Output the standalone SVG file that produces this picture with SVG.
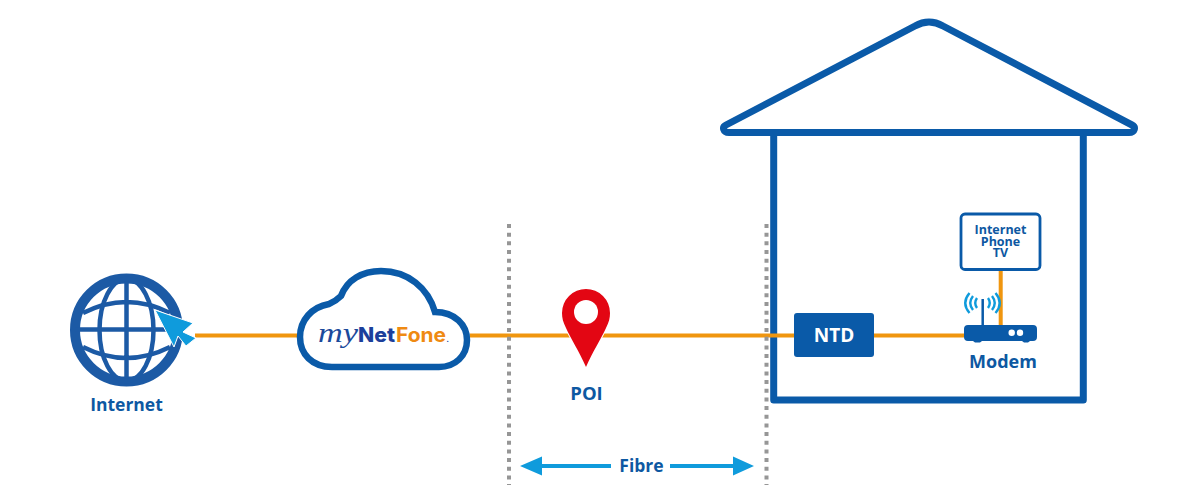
<svg xmlns="http://www.w3.org/2000/svg" width="1200" height="499" viewBox="0 0 1200 499">
<defs><style>
text{font-family:"Open Sans","Noto Sans",sans-serif;font-weight:700;fill:#0d58a2;text-anchor:middle}
.b{fill:none;stroke:#0a5aa8;stroke-width:7}
.o{fill:none;stroke:#f0960f;stroke-width:4}
.d{fill:none;stroke:#969696;stroke-width:4;stroke-dasharray:4 4.67}
.a{fill:none;stroke:#0f9bdc;stroke-width:4}
.f{fill:#0f9bdc}
.g{fill:none;stroke:#1c5aa5;stroke-width:4.500}
.w{fill:none;stroke:#0f9bdc;stroke-width:2.400}
</style></defs>
<g id="house">
<path class="b" stroke-linejoin="round" d="M773.700 133V400H1083.300V133"/>
<path class="b" stroke-linejoin="round" d="M729 132.500H1129C1135 132.500 1136 127 1132 125L943 26Q929 18 915 26L726 125C722 127 723 132.500 729 132.500Z"/>
</g>
<g id="connectors">
<path class="o" d="M195 335.500H298M470 335.500H794M874 335.500H965M1000.700 270V325"/>
<path class="d" d="M509 224V485M766.500 224V485"/>
<path class="a" d="M535 466H611M670 466H740"/>
<path class="f" d="M520 466L542 456.500V475.500ZM754 466L733 456.500V475.500Z"/>
</g>
<g id="internet">
<circle cx="126.500" cy="330" r="51.500" fill="none" stroke="#1c5aa5" stroke-width="10"/>
<path class="g" d="M126.500 279V381M75 329.500H178M83 313Q126.500 291 170 313M83 347Q126.500 369 170 347"/>
<ellipse class="g" cx="126.500" cy="330" rx="27" ry="51"/>
<path d="M155 310L193 323L183 332L196 338L186 346L178 336L174 347Z" fill="#0f9bdc" stroke="#fff" stroke-width="1"/>
<text x="126.500" y="411" font-size="17.500">Internet</text>
</g>
<g id="cloud">
<path d="M332 367C312 367 300 354 300 337C300 320 312 307 329 304Q336 301 341 296C347 280 362 271 381 271C408 271 428 288 435 312C455 312 467 325 467 340C467 356 455 367 439 367Z" fill="#fff" stroke="#0a5aa8" stroke-width="6.500"/>
<text y="342" style="text-anchor:start"><tspan x="318" font-size="27" textLength="40" lengthAdjust="spacingAndGlyphs" style="font-family:'Liberation Serif',serif;font-style:italic;font-weight:400;fill:#1c4a9b">my</tspan><tspan x="358" font-size="20" textLength="37" lengthAdjust="spacingAndGlyphs" style="font-family:Inter,sans-serif;font-weight:800;fill:#1c3f9b">Net</tspan><tspan x="396" font-size="20" textLength="50" lengthAdjust="spacingAndGlyphs" style="font-family:Inter,sans-serif;font-weight:700;fill:#ef8a12">Fone</tspan><tspan x="446.500" font-size="7" style="font-family:Inter,sans-serif;fill:#1c3f9b">.</tspan></text>
</g>
<g id="poi">
<path d="M586 367C579 351 571 339 566 328C563 322 562 318 562 313A24 24 0 0 1 610 313C610 318 609 322 606 328C601 339 593 351 586 367Z" fill="#e30613" stroke="#fff" stroke-width="2" paint-order="stroke"/>
<circle cx="586" cy="312" r="12" fill="#fff"/>
<text x="586.500" y="400" font-size="18.500">POI</text>
</g>
<g id="fibre"><text x="641.500" y="472" font-size="17.500">Fibre</text></g>
<g id="ntd">
<rect x="794" y="313" width="80" height="44" rx="3" fill="#0a5aa8"/>
<text x="834" y="342" font-size="19" style="fill:#fff">NTD</text>
</g>
<g id="screen">
<rect x="961" y="214" width="79" height="55.500" rx="4" fill="#fff" stroke="#0a5aa8" stroke-width="2.800"/>
<text font-size="12.500"><tspan x="1000.500" y="234">Internet</tspan><tspan x="1000.500" y="245.500">Phone</tspan><tspan x="1000.500" y="257">TV</tspan></text>
</g>
<g id="modem">
<path d="M968 325H1033Q1037 325 1037 329V337Q1037 341 1033 341H1030L1028 342.500H1024L1022 341H982L980 342.500H975L973 341H968Q964 341 964 337V329Q964 325 968 325Z" fill="#0a5aa8"/>
<path d="M982.700 299V326" stroke="#0a5aa8" stroke-width="2.500" fill="none"/>
<circle cx="1011.700" cy="332.700" r="3.200" fill="#fff"/><circle cx="1020" cy="332.700" r="3.200" fill="#fff"/>
<path class="w" d="M977 298Q973.500 303 977 308M973 296Q967.500 303 973 310M969.500 293Q961 303 969.500 313M988 298Q991.500 303 988 308M992 296Q997.500 303 992 310M995.500 293Q1004 303 995.500 313"/>
<text x="1003" y="367.500" font-size="18">Modem</text>
</g>
</svg>
